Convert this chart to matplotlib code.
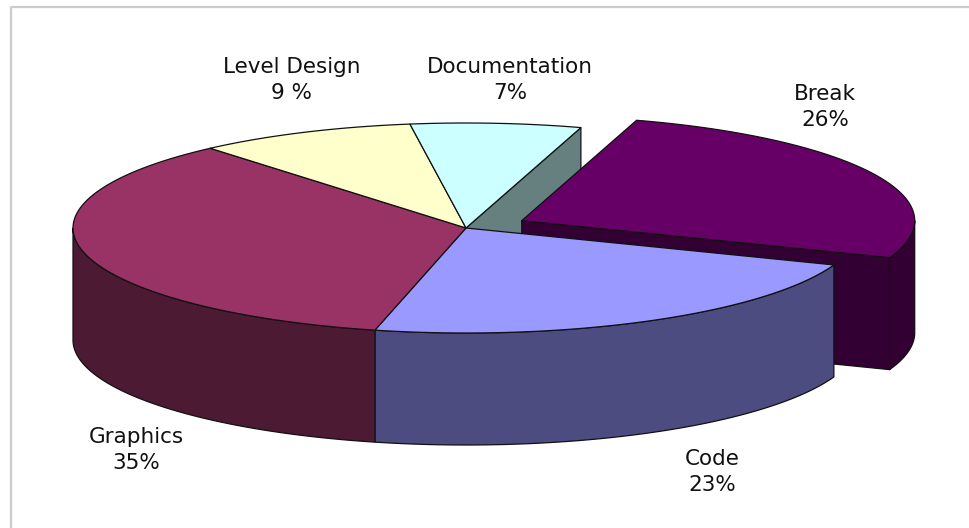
import matplotlib
matplotlib.use("Agg")
import matplotlib.pyplot as plt
import numpy as np
from matplotlib.patches import Polygon

# data
labels = ['Break', 'Code', 'Graphics', 'Level Design', 'Documentation']
values = [26, 23, 35, 9, 7]
pct_text = ['26%', '23%', '35%', '9 %', '7%']
top_colors = ['#660066', '#9999FF', '#993366', '#FFFFCC', '#CCFFFF']
side_colors = ['#330033', '#4C4C80', '#4C1A33', '#808066', '#668080']
explode = [0.158, 0, 0, 0, 0]

# layout (pixels)
CX, CY = 466, 228
RX, RY = 393, 105
DEPTH = 112
START = 17  # degrees clockwise from 12 o'clock
label_xy = [(825, 107), (712, 472), (136, 450), (292, 80), (510, 80)]

fig = plt.figure(figsize=(9.7, 5.28), dpi=100)
ax = fig.add_axes([0, 0, 1, 1])
ax.set_xlim(0, 970)
ax.set_ylim(528, 0)
ax.axis('off')

# border of the chart area
ax.plot([11, 11, 970], [528, 7, 7], color='#cccccc', lw=1.6, solid_capstyle='butt')


def pt(c, th, dz=0):
    t = np.radians(th)
    return c[0] + RX * np.cos(t), c[1] - RY * np.sin(t) + dz


def arc(c, t0, t1, dz=0, n=80):
    ts = np.linspace(t0, t1, n)
    return [pt(c, t, dz) for t in ts]


edge = dict(edgecolor='#111111', linewidth=0.9, joinstyle='round')

# slice angles (math convention, decreasing = clockwise)
cum = np.cumsum([0] + values[:-1])
th0 = [90 - START - 3.6 * c for c in cum]
th1 = [t - 3.6 * v for t, v in zip(th0, values)]
centers = []
for i in range(len(values)):
    mid = np.radians((th0[i] + th1[i]) / 2)
    centers.append((CX + explode[i] * RX * np.cos(mid), CY - explode[i] * RY * np.sin(mid)))


def top(i):
    c = centers[i]
    ax.add_patch(Polygon([c] + arc(c, th0[i], th1[i]), closed=True,
                         facecolor=top_colors[i], **edge))


def wall(i):
    c = centers[i]
    for lo, hi in [(-540, -360), (-180, 0), (180, 360)]:
        a = max(th1[i], lo)
        b = min(th0[i], hi)
        if b > a:
            pts = arc(c, b, a) + arc(c, a, b, DEPTH)
            ax.add_patch(Polygon(pts, closed=True, facecolor=side_colors[i], **edge))


def end_face(i):
    c = centers[i]
    p = pt(c, th1[i])
    pts = [c, p, (p[0], p[1] + DEPTH), (c[0], c[1] + DEPTH)]
    ax.add_patch(Polygon(pts, closed=True, facecolor=side_colors[i], **edge))


# painter's order: back faces first
end_face(4)
end_face(0)
wall(0)
top(0)
for i in range(1, len(values)):
    wall(i)
for i in range(1, len(values)):
    top(i)

for (x, y), name, p in zip(label_xy, labels, pct_text):
    ax.text(x, y, name + '\n' + p, ha='center', va='center', fontsize=15.5,
            family='DejaVu Sans', color='#111111', linespacing=1.4)

fig.savefig('out.png', dpi=100)
